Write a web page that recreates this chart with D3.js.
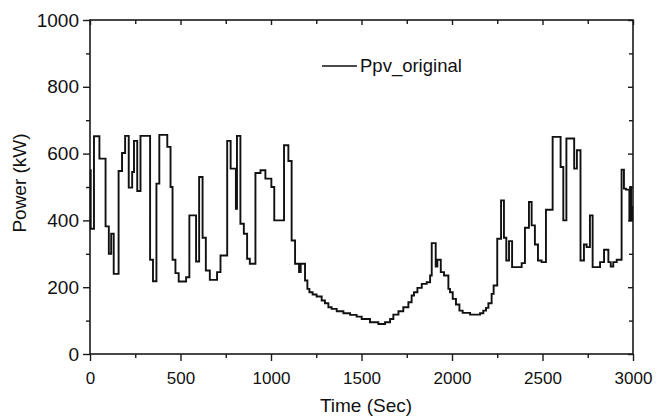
<!DOCTYPE html>
<html>
<head>
<meta charset="utf-8">
<script src="https://cdn.jsdelivr.net/npm/d3@7"></script>
<style>
  html, body { margin: 0; padding: 0; background: #fff; }
  svg { display: block; }
  text { font-family: "Liberation Sans", Arial, sans-serif; fill: #111; }
</style>
</head>
<body>
<svg id="chart" width="657" height="418"></svg>
<script>
// ---- data ----
const seriesName = "Ppv_original";
const timeSec = [0, 4, 22, 52, 86, 104, 117, 131, 158, 177, 194, 214, 233, 243, 261, 279, 332, 348, 367, 383,
  427, 445, 456, 472, 490, 531, 549, 586, 603, 622, 640, 662, 702, 721, 758, 777, 806, 812, 831, 850,
  868, 883, 914, 942, 969, 1002, 1018, 1072, 1096, 1114, 1133, 1155, 1164, 1188, 1201, 1212, 1230, 1252, 1280, 1298,
  1317, 1335, 1363, 1400, 1437, 1473, 1501, 1547, 1593, 1630, 1658, 1676, 1704, 1731, 1759, 1777, 1790, 1809, 1833, 1860,
  1879, 1888, 1910, 1919, 1938, 1956, 1980, 1989, 2004, 2022, 2041, 2059, 2100, 2155, 2173, 2188, 2201, 2219, 2230, 2250,
  2271, 2287, 2300, 2315, 2332, 2385, 2403, 2425, 2440, 2458, 2475, 2495, 2519, 2556, 2600, 2615, 2632, 2675, 2690, 2710,
  2729, 2744, 2762, 2777, 2818, 2840, 2864, 2877, 2891, 2910, 2937, 2950, 2961, 2980, 2985, 2990, 2995, 3000];
const powerKW = [550, 375, 652, 585, 382, 300, 360, 240, 548, 602, 653, 498, 545, 638, 488, 653, 282, 218, 510, 656,
  620, 500, 282, 242, 217, 230, 415, 277, 530, 348, 250, 222, 245, 295, 638, 555, 435, 653, 390, 360,
  285, 270, 542, 550, 525, 500, 400, 625, 578, 340, 270, 245, 270, 220, 195, 185, 178, 172, 160, 152,
  140, 135, 128, 122, 117, 112, 105, 95, 90, 95, 105, 118, 128, 140, 155, 175, 185, 198, 210, 215,
  235, 332, 262, 282, 245, 235, 195, 185, 165, 148, 130, 123, 118, 122, 130, 138, 152, 180, 205, 345,
  460, 348, 280, 338, 260, 272, 378, 455, 385, 328, 280, 275, 432, 650, 560, 400, 645, 555, 610, 280,
  328, 320, 415, 260, 275, 312, 275, 262, 275, 282, 552, 495, 492, 400, 500, 400, 440, 440];
const xMajorTicks = [0, 500, 1000, 1500, 2000, 2500, 3000];
const xMinorTicks = [250, 750, 1250, 1750, 2250, 2750];
const yMajorTicks = [0, 200, 400, 600, 800, 1000];
const yMinorTicks = [100, 300, 500, 700, 900];
const xTitle = "Time (Sec)";
const yTitle = "Power (kW)";

// ---- layout ----
const svg = d3.select("#chart");
const L = 90, R = 633, T = 20, B = 354;
const x = d3.scaleLinear().domain([0, 3000]).range([L, R]);
const y = d3.scaleLinear().domain([0, 1000]).range([B, T]);
const ink = "#1a1a1a";

function axisStyle(g) {
  g.select(".domain").remove();
  g.selectAll("line").attr("stroke", ink).attr("stroke-width", 1.4);
}

// bottom axis: major outward + minor outward
svg.append("g").attr("transform", `translate(0,${B})`)
  .call(d3.axisBottom(x).tickValues(xMajorTicks).tickSize(7).tickPadding(11).tickFormat(d3.format("d")))
  .call(axisStyle)
  .call(g => g.selectAll("text").attr("font-size", 17).attr("fill", ink).attr("font-family", '"Liberation Sans", Arial, sans-serif'));
svg.append("g").attr("transform", `translate(0,${B})`)
  .call(d3.axisBottom(x).tickValues(xMinorTicks).tickSize(4).tickFormat(""))
  .call(axisStyle);

// top axis: inward ticks
svg.append("g").attr("transform", `translate(0,${T})`)
  .call(d3.axisBottom(x).tickValues(xMajorTicks).tickSize(5).tickFormat(""))
  .call(axisStyle);
svg.append("g").attr("transform", `translate(0,${T})`)
  .call(d3.axisBottom(x).tickValues(xMinorTicks).tickSize(4).tickFormat(""))
  .call(axisStyle);

// left axis
svg.append("g").attr("transform", `translate(${L},0)`)
  .call(d3.axisLeft(y).tickValues(yMajorTicks).tickSize(7).tickPadding(4).tickFormat(d3.format("d")))
  .call(axisStyle)
  .call(g => g.selectAll("text").attr("font-size", 19).attr("fill", ink).attr("font-family", '"Liberation Sans", Arial, sans-serif'));
svg.append("g").attr("transform", `translate(${L},0)`)
  .call(d3.axisLeft(y).tickValues(yMinorTicks).tickSize(4).tickFormat(""))
  .call(axisStyle);

// right axis: inward ticks
svg.append("g").attr("transform", `translate(${R},0)`)
  .call(d3.axisLeft(y).tickValues(yMajorTicks).tickSize(5).tickFormat(""))
  .call(axisStyle);
svg.append("g").attr("transform", `translate(${R},0)`)
  .call(d3.axisLeft(y).tickValues(yMinorTicks).tickSize(4).tickFormat(""))
  .call(axisStyle);

// frame
svg.append("rect").attr("x", L).attr("y", T).attr("width", R - L).attr("height", B - T)
  .attr("fill", "none").attr("stroke", ink).attr("stroke-width", 1.6);

// series
const data = timeSec.map((t, i) => ({ t, v: powerKW[i] }));
const line = d3.line().x(d => x(d.t)).y(d => y(d.v)).curve(d3.curveStepAfter);
svg.append("path").datum(data).attr("d", line)
  .attr("fill", "none").attr("stroke", "#111").attr("stroke-width", 1.9).attr("stroke-linejoin", "miter");

// legend
svg.append("line").attr("x1", 322).attr("x2", 357).attr("y1", 66).attr("y2", 66)
  .attr("stroke", "#111").attr("stroke-width", 1.6);
svg.append("text").attr("x", 360).attr("y", 72).attr("font-size", 18.5).text(seriesName);

// axis titles
svg.append("text").attr("x", 366).attr("y", 412).attr("text-anchor", "middle")
  .attr("font-size", 19).text(xTitle);
svg.append("text").attr("transform", `translate(26,${(T + B) / 2 - 4}) rotate(-90)`)
  .attr("text-anchor", "middle").attr("font-size", 19).text(yTitle);
</script>
</body>
</html>
